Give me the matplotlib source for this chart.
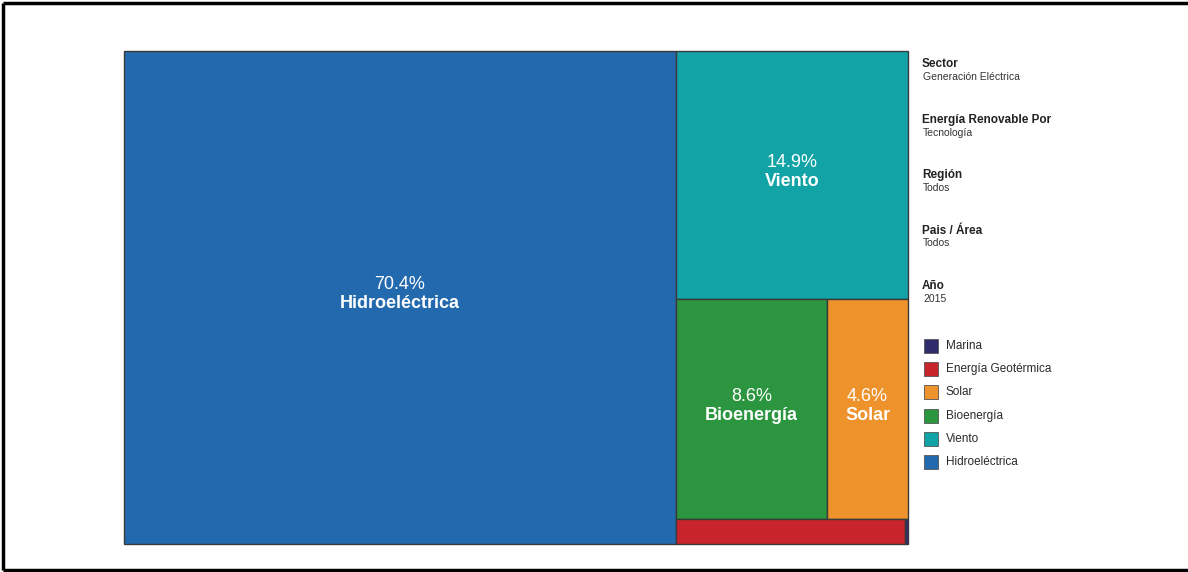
import matplotlib.pyplot as plt
from matplotlib.patches import Rectangle

plt.rcParams['font.family'] = ['Liberation Sans', 'DejaVu Sans']

# share of renewable generation by technology, 2015 (%)
techs = ['Hidroeléctrica', 'Viento', 'Bioenergía', 'Solar', 'Energía Geotérmica', 'Marina']
shares = [70.4, 14.9, 8.6, 4.6, 1.48, 0.02]
colors = ['#2369ad', '#12a3a6', '#2b963f', '#ee922b', '#c8242b', '#2f2c6c']

# rows of the right-hand column (indices into techs)
right_rows = [[1], [2, 3], [4, 5]]

info_titles = ['Sector', 'Energía Renovable Por', 'Región', 'Pais / Área', 'Año']
info_values = ['Generación Eléctrica', 'Tecnología', 'Todos', 'Todos', '2015']

W, H = 1188, 572
fig = plt.figure(figsize=(W / 100, H / 100), dpi=100)
ax = fig.add_axes([0, 0, 1, 1])
ax.set_xlim(0, W)
ax.set_ylim(H, 0)
ax.axis('off')

# treemap area in pixels
x0, y0, x1, y1 = 124, 51, 908, 544
total = sum(shares)
rects = {}
split = x0 + (x1 - x0) * shares[0] / total
rects[0] = (x0, y0, split - x0, y1 - y0)
col_total = total - shares[0]
yy = y0
for row in right_rows:
    row_sum = sum(shares[i] for i in row)
    h = (y1 - y0) * row_sum / col_total
    xx = split
    for i in row:
        w = (x1 - split) * shares[i] / row_sum
        rects[i] = (xx, yy, w, h)
        xx += w
    yy += h

for i, (x, y, w, h) in rects.items():
    ax.add_patch(Rectangle((x, y), w, h, facecolor=colors[i],
                           edgecolor='#3a3a3a', linewidth=1.0))

# labels for the larger tiles
for i in range(4):
    x, y, w, h = rects[i]
    cx, cy = x + w / 2, y + h / 2
    ax.text(cx, cy - 13, f'{shares[i]:.1f}%', color='white', fontsize=13,
            ha='center', va='center')
    ax.text(cx, cy + 6, techs[i], color='white', fontsize=13,
            fontweight='bold', ha='center', va='center')

# filter info on the right
for k, (t, v) in enumerate(zip(info_titles, info_values)):
    ty = 64 + k * 55.5
    ax.text(922, ty, t, fontsize=8.5, fontweight='bold', color='#222222',
            ha='left', va='center')
    ax.text(923, ty + 13, v, fontsize=7.5, color='#333333',
            ha='left', va='center')

# legend, listed from smallest to largest
for k, i in enumerate(reversed(range(len(techs)))):
    ly = 346 + k * 23.2
    ax.add_patch(Rectangle((924, ly - 7), 14, 14, facecolor=colors[i],
                           edgecolor='#555555', linewidth=0.6))
    ax.text(946, ly, techs[i], fontsize=8.5, color='#2a2a2a',
            ha='left', va='center')

# outer frame (left, top, bottom)
ax.plot([3, 3], [3, 570], color='black', linewidth=2.5, solid_capstyle='butt')
ax.plot([3, W], [3, 3], color='black', linewidth=2.5, solid_capstyle='butt')
ax.plot([3, W], [570, 570], color='black', linewidth=2.5, solid_capstyle='butt')

fig.savefig('out.png', dpi=100)
